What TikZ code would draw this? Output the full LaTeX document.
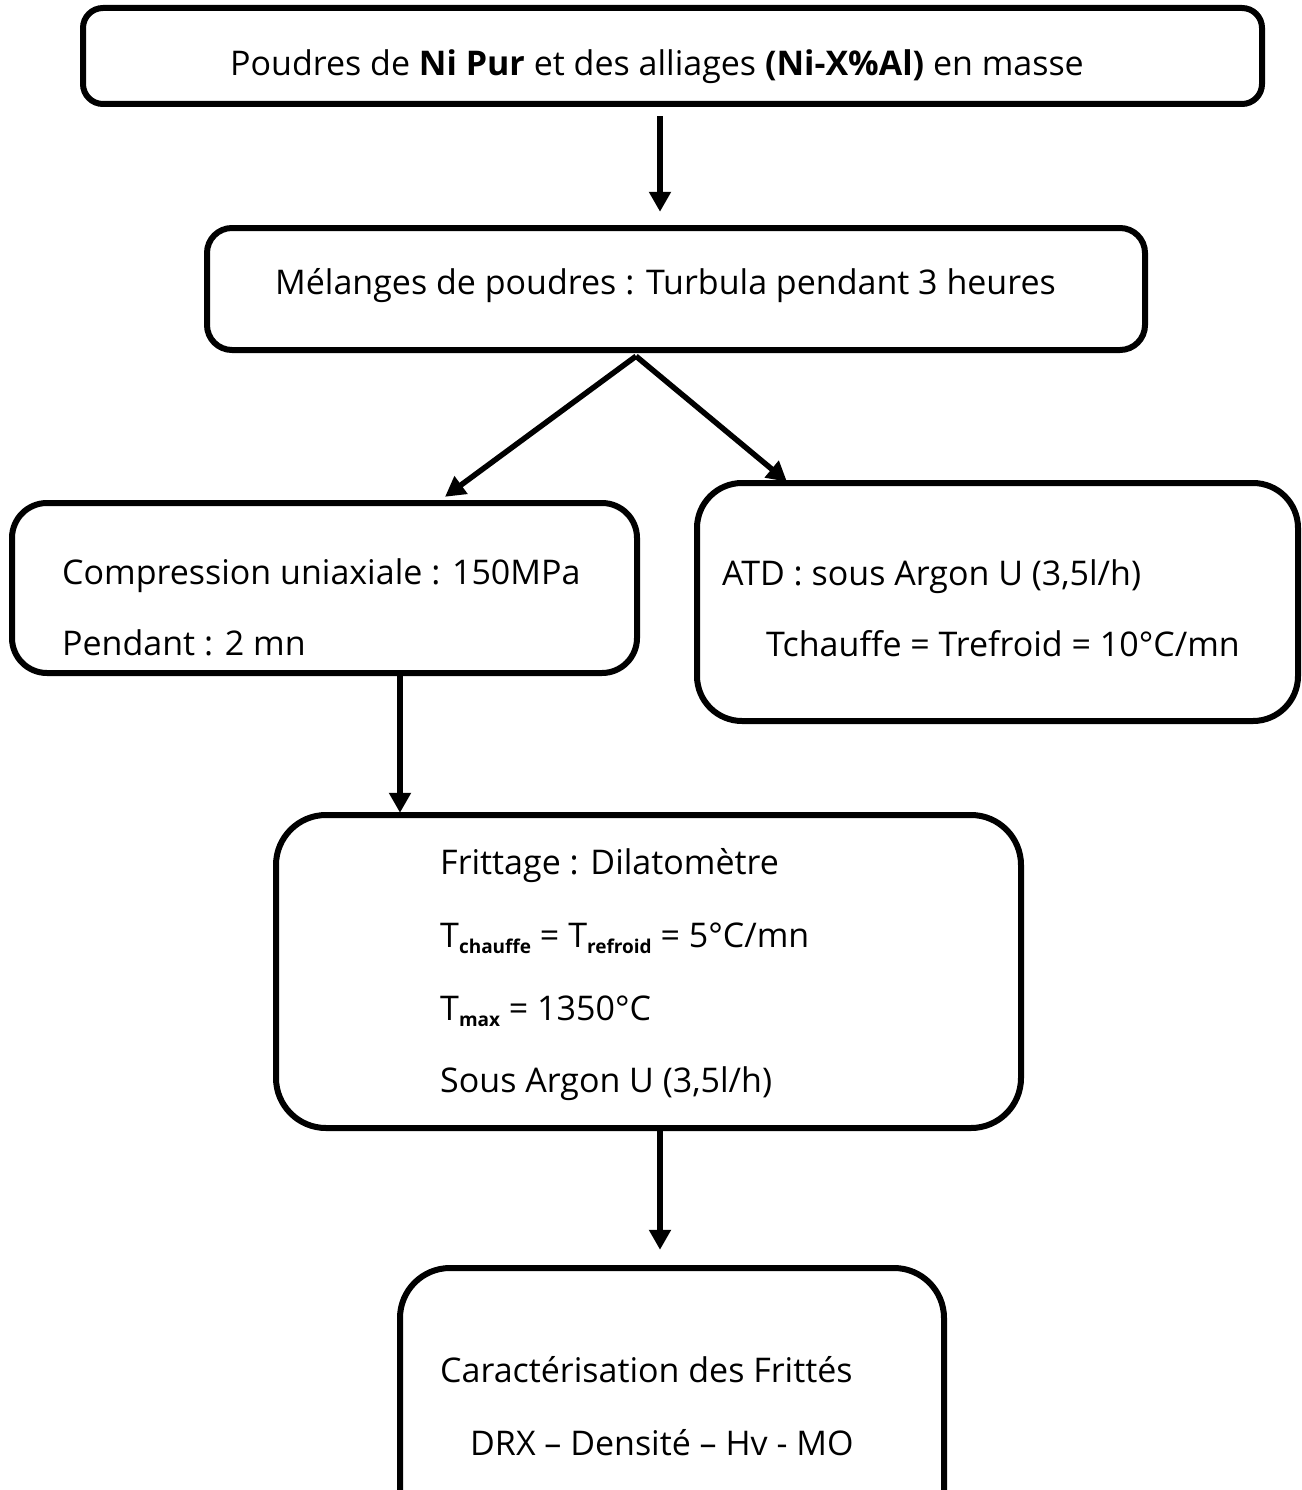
\documentclass[tikz,border=0pt]{standalone}
\usepackage{fontspec}
\setmainfont{Open Sans}
\usetikzlibrary{arrows.meta}
\tikzset{
  box/.style={draw=black, line width=6pt, rounded corners=#1, fill=none},
  box/.default=25pt,
  txt/.style={anchor=base west, inner sep=0pt, font=\fontsize{34pt}{40pt}\selectfont},
  arr/.style={line width=5.5pt, -{Triangle[length=20pt,width=21pt]}}
}
\newcommand{\sbx}[1]{\raisebox{-0.35ex}{\fontsize{19pt}{22pt}\selectfont\bfseries #1}}
\begin{document}
\begin{tikzpicture}[x=1pt,y=-1pt]
\useasboundingbox (0,0) rectangle (1301,1490);
\clip (0,0) rectangle (1301,1490);
% boxes
\draw[box=20pt] (83,8) rectangle (1262,104);
\node (b1) at (672.5,56) [minimum width=1179pt, minimum height=96pt, inner sep=0pt] {};
\draw[box=25pt] (207,228) rectangle (1145,350);
\node (b2) at (676,289) [minimum width=938pt, minimum height=122pt, inner sep=0pt] {};
\draw[box=35pt] (12,503) rectangle (637,673);
\node (b3) at (324.5,588) [minimum width=625pt, minimum height=170pt, inner sep=0pt] {};
\draw[box=45pt] (697,483) rectangle (1298,721);
\node (b4) at (997.5,602) [minimum width=601pt, minimum height=238pt, inner sep=0pt] {};
\draw[box=50pt] (276,815) rectangle (1021,1128);
\node (b5) at (648.5,971.5) [minimum width=745pt, minimum height=313pt, inner sep=0pt] {};
\draw[box=50pt] (400,1268) rectangle (944,1540);
\node (b6) at (672,1404) [minimum width=544pt, minimum height=272pt, inner sep=0pt] {};
% texts
\node[txt] (t1) at (230,76) {Poudres de \textbf{Ni Pur} et des alliages \textbf{(Ni-X\%Al)} en masse};
\node[txt] (t2) at (275,294) {Mélanges de poudres : Turbula pendant 3 heures};
\node[txt] (t3a) at (62,584) {Compression uniaxiale : 150MPa};
\node[txt] (t3b) at (62,655) {Pendant : 2 mn};
\node[txt] (t4a) at (722,585) {ATD : sous Argon U (3,5l/h)};
\node[txt] (t4b) at (766,656) {Tchauffe = Trefroid = 10°C/mn};
\node[txt] (t5a) at (440,874) {Frittage : Dilatomètre};
\node[txt] (t5b) at (440,947) {T\sbx{chauffe} = T\sbx{refroid} = 5°C/mn};
\node[txt] (t5c) at (440,1020) {T\sbx{max} = 1350°C};
\node[txt] (t5d) at (440,1092) {Sous Argon U (3,5l/h)};
\node[txt] (t6a) at (440,1382) {Caractérisation des Frittés};
\node[txt] (t6b) at (470,1455) {DRX – Densité – Hv - MO};
% arrows
\draw[arr] ([yshift=-12pt]b1.south -| 660,0) -- ([yshift=16pt]b2.north -| 660,0);
\draw[arr] ([yshift=-6pt]b2.south -| 636,0) -- ([yshift=6pt]b3.north -| 445,0);
\draw[arr] ([yshift=-6pt]b2.south -| 636,0) -- ([yshift=1pt]b4.north -| 787,0);
\draw[arr] (b3.south -| 400,0) -- ([yshift=2pt]b5.north -| 400,0);
\draw[arr] ([yshift=-2pt]b5.south -| 660,0) -- ([yshift=18pt]b6.north -| 660,0);
\end{tikzpicture}
\end{document}
